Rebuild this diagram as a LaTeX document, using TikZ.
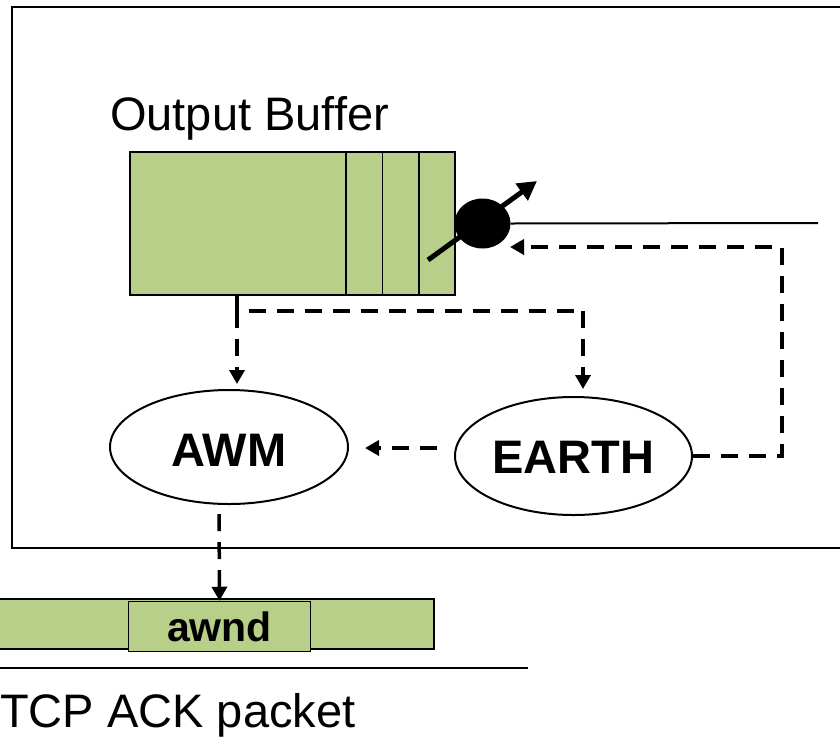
\documentclass[tikz,border=0pt]{standalone}
\usepackage{fontspec}
\setmainfont{Liberation Sans}
\usetikzlibrary{arrows.meta,shapes.geometric}
\definecolor{bufgreen}{RGB}{184,207,138}
\begin{document}
\begin{tikzpicture}[x=1pt,y=-1pt,
  thinline/.style={line width=2pt},
  dsh/.style={line width=3.5pt,dash pattern=on 17pt off 11pt},
  arr/.style={-{Triangle[width=15pt,length=14pt]}},
  oval/.style={ellipse,draw,line width=2pt,inner sep=0pt},
  bigtext/.style={font=\fontsize{47}{56}\selectfont},
  boldtext/.style={font=\fontsize{47}{56}\selectfont\bfseries}]
\useasboundingbox (0,0) rectangle (840,737);
% outer box (open to the right)
\draw[thinline] (840,7) -- (12,7) -- (12,548) -- (840,548);
% output buffer
\node[bigtext,anchor=base west,inner sep=0pt] (lbl) at (110,130) {Output Buffer};
\node[draw,fill=bufgreen,line width=1.5pt,minimum width=325pt,minimum height=143pt,inner sep=0pt] (buf) at (292.5,223.5) {};
\foreach \xx in {346,382.5,419}{\draw[line width=1.5pt] (\xx,152) -- (\xx,295);}
% switch
\node[ellipse,fill=black,minimum width=56pt,minimum height=50pt,inner sep=0pt] (sw) at (482.5,223.5) {};
\coordinate (ls) at (428,260);
\coordinate (le) at (537,181);
\draw[line width=5pt,-{Triangle[width=20pt,length=19pt]}] (ls) -- (le);
\coordinate (lineend) at (818,223);
\draw[thinline] (sw.east) -- (lineend);
% ellipses
\node[oval,minimum width=238pt,minimum height=114pt] (awm) at (229,447) {};
\node[boldtext] (awmt) at (229,450) {AWM};
\node[oval,minimum width=237pt,minimum height=118pt] (earth) at (573.5,456) {};
\node[boldtext] (eartht) at (573.5,457) {EARTH};
% dashed connectors
\coordinate (b0) at (237,295);
\coordinate (b1) at (237,311);
\coordinate (b2) at (583,311);
\draw[dsh] (b0) -- (b1) -- (b2);
\draw[dsh,arr,shorten >=5pt] (b1) -- (b1 |- awm.north);
\draw[dsh,arr,shorten >=7pt] (b2) -- (b2 |- earth.north);
\coordinate (ew) at (437,448);
\coordinate (ae) at (365,448);
\draw[dsh,arr] (ew) -- (ae);
\coordinate (c0) at (782,456);
\coordinate (c1) at (782,247);
\coordinate (c2) at (510,247);
\draw[dsh,arr] (earth.east) -- (c0) -- (c1) -- (c2);
% TCP ACK packet
\node[fill=bufgreen,minimum width=440pt,minimum height=50pt,inner sep=0pt,anchor=north west] (pkt) at (-6,599) {};
\draw[thinline] (pkt.north west) -- (pkt.north east) -- (pkt.south east) -- (pkt.south west);
\node[draw,fill=bufgreen,line width=1.5pt,minimum width=182pt,minimum height=50pt,inner sep=0pt,
  font=\fontsize{41}{48}\selectfont\bfseries] (awnd) at (219.5,626.5) {awnd};
\coordinate (a0) at (219,504);
\draw[dsh,arr,shorten <=10pt] (a0) -- (awnd.north);
\coordinate (l0) at (0,668);
\coordinate (l1) at (528,668);
\draw[thinline] (l0) -- (l1);
\node[bigtext,anchor=base west,inner sep=0pt] (tcp) at (0,727) {TCP ACK packet};
\end{tikzpicture}
\end{document}
